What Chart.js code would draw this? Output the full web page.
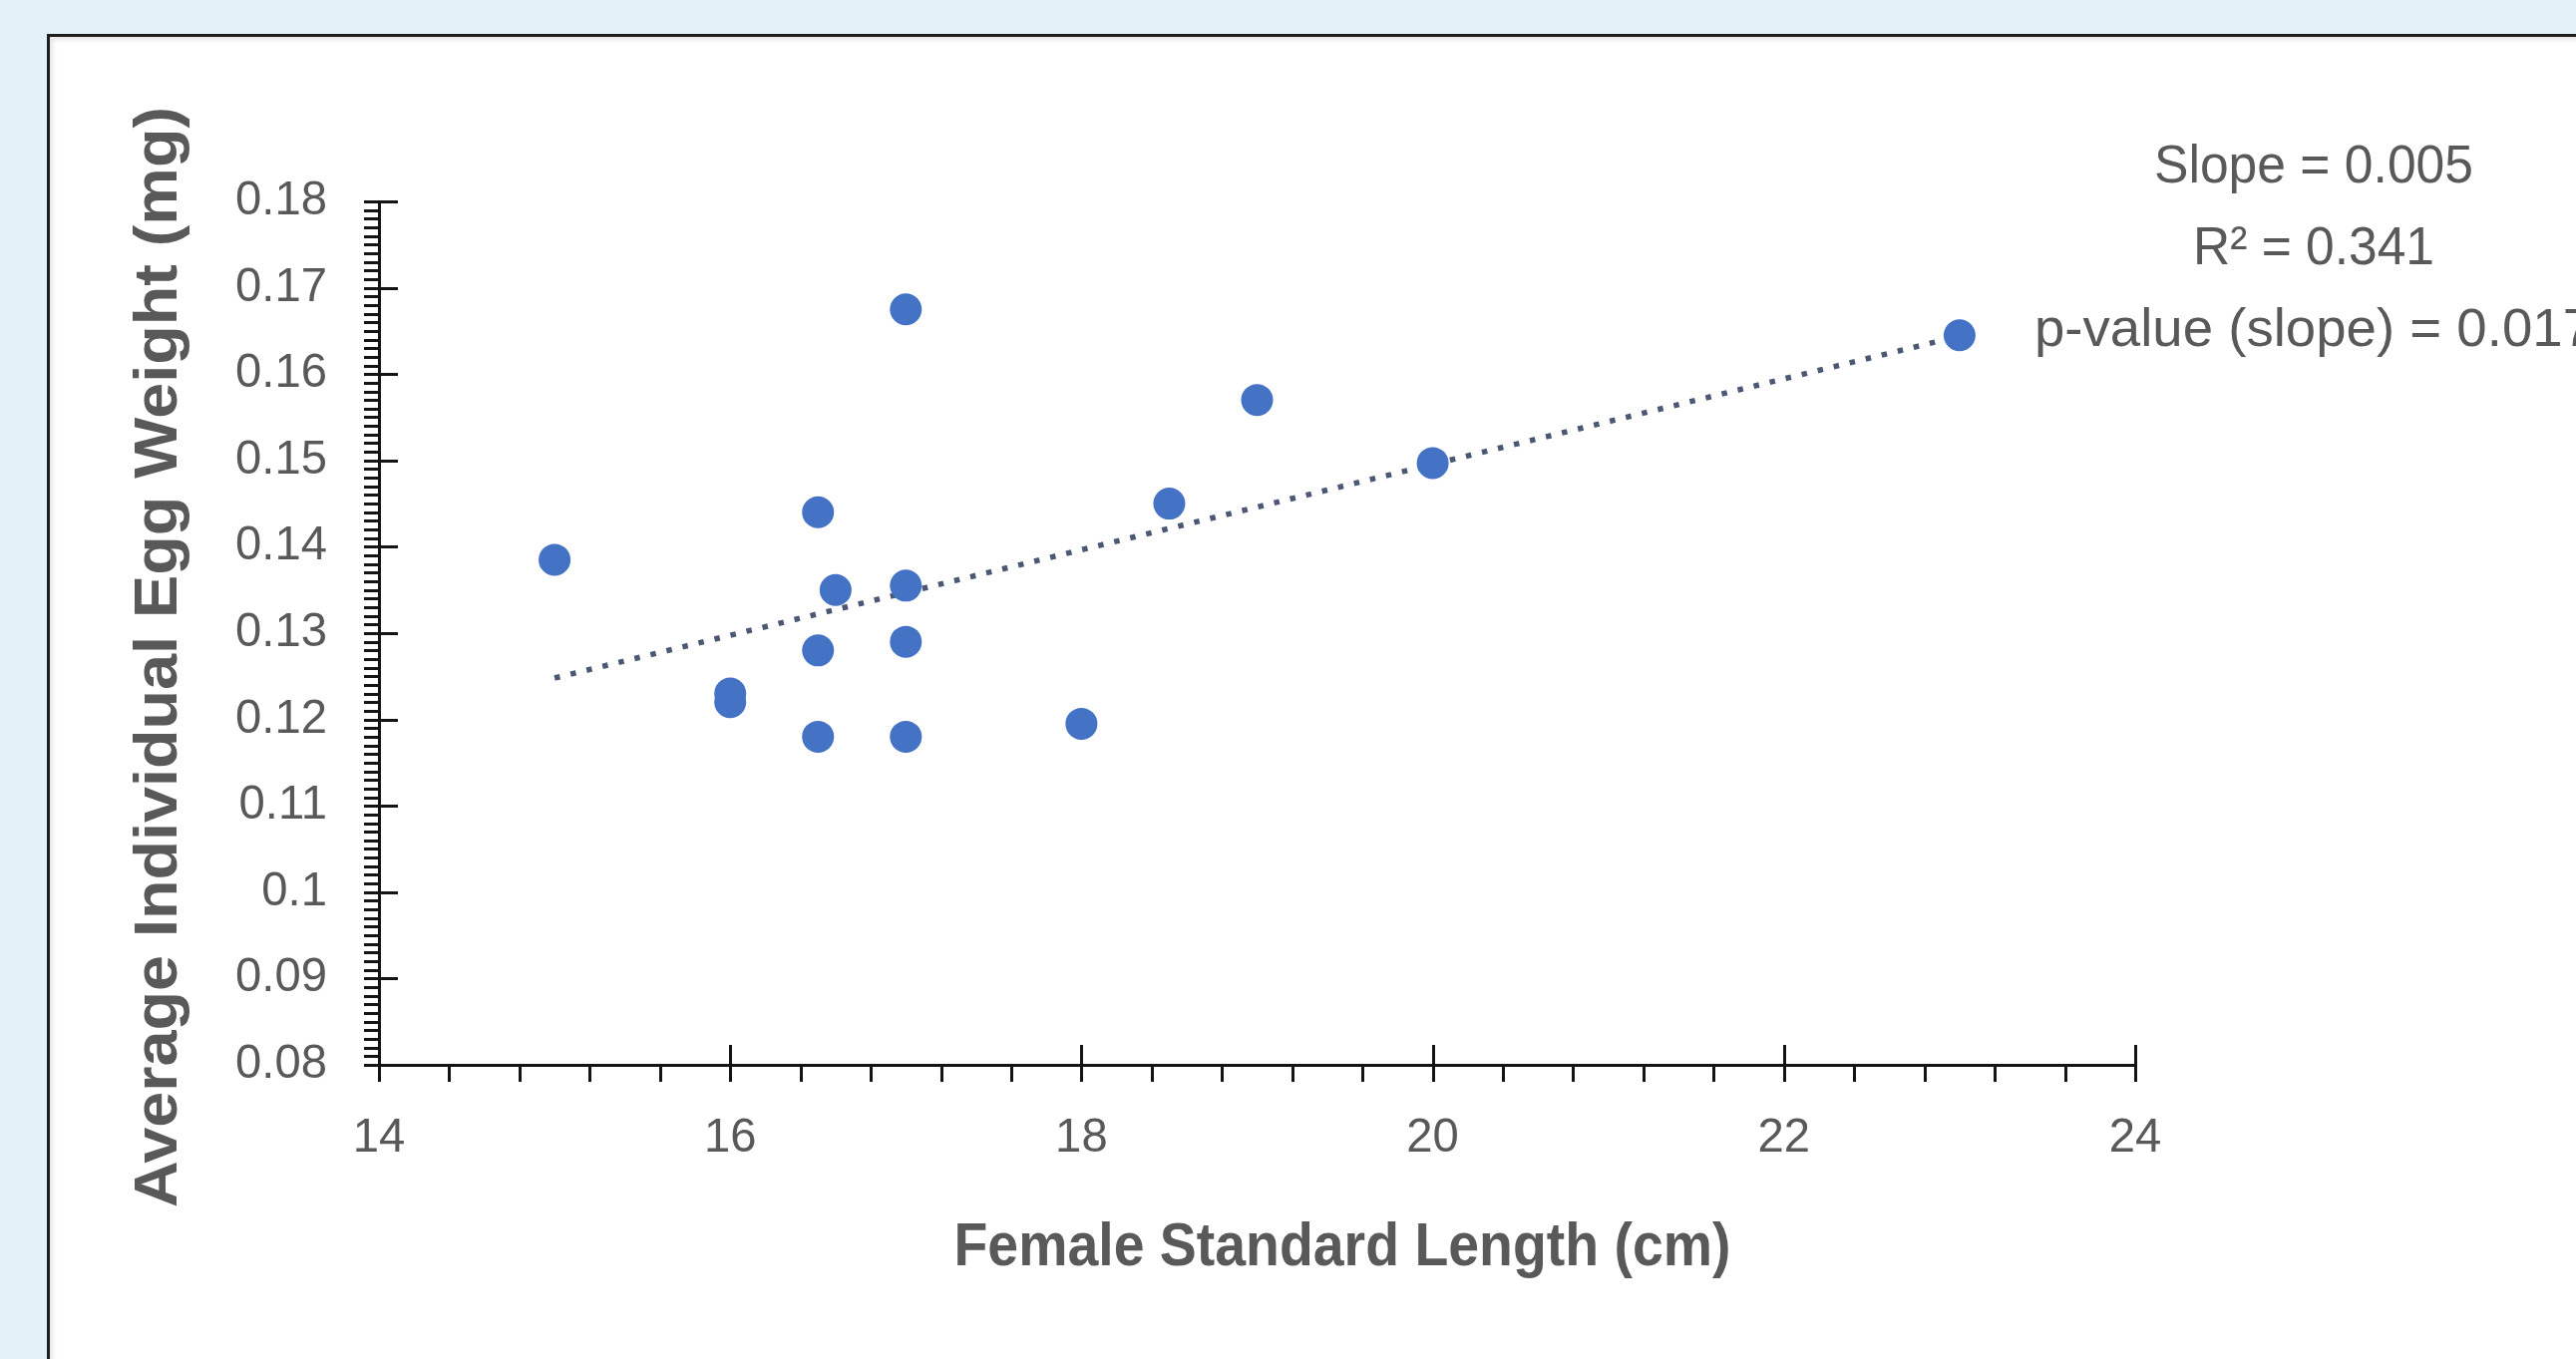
<!DOCTYPE html>
<html>
<head>
<meta charset="utf-8">
<title>Egg weight vs female length</title>
<script src="https://cdn.jsdelivr.net/npm/chart.js@4.4.1/dist/chart.umd.min.js"></script>
<style>
    html, body { margin: 0; padding: 0; background: #e3f1f9; overflow: hidden; }
    #panel {
        position: absolute; left: 47px; top: 34px; width: 2600px; height: 1400px;
        background: #fff; border: 3px solid #1e1e1e;
        box-shadow: inset 3px 3px 4px rgba(0, 0, 0, 0.10);
    }
    #wrap { position: absolute; left: 0; top: 0; width: 2583px; height: 1363px; }
</style>
</head>
<body>
<div id="panel"></div>
<div id="wrap"><canvas id="chart" width="2583" height="1363"></canvas></div>
<script>
// data
const lengthCm = [15, 16, 16, 16.5, 16.5, 16.5, 16.6, 17, 17, 17, 17, 18, 18.5, 19, 20, 23];
const eggWeightMg = [0.1385, 0.123, 0.122, 0.144, 0.128, 0.118, 0.135, 0.1675, 0.1355, 0.129, 0.118, 0.1195, 0.145, 0.157, 0.1497, 0.1645];
const trendX = [15, 23];
const trendY = [0.1248, 0.1644];
const xTicks = [14, 16, 18, 20, 22, 24];
const yTicks = [0.08, 0.09, 0.1, 0.11, 0.12, 0.13, 0.14, 0.15, 0.16, 0.17, 0.18];
const xMinorStep = 0.4;
const yMinorStep = 0.001;
const statLines = ['Slope = 0.005', 'R\u00b2 = 0.341', 'p-value (slope) = 0.017'];
const xTitle = 'Female Standard Length (cm)';
const yTitle = 'Average Individual Egg Weight (mg)';

const FAMILY = '"Liberation Sans Narrow", "Liberation Sans", Roboto, sans-serif';
const TEXT = '#595959';
const AXIS = '#141414';

// pick a font size so a string comes out at the width seen in the picture
const measureCtx = document.createElement('canvas').getContext('2d');
function fitSize(text, weight, width) {
    measureCtx.font = `${weight} 100px ${FAMILY}`;
    return 100 * width / measureCtx.measureText(text).width;
}
const tickSize = fitSize('0.18', 'normal', 92);

// the original font is narrow and tall: draw at a height, scale to the width
function drawSqueezed(ctx, text, font, width, cx, cy, angle) {
    ctx.save();
    ctx.translate(cx, cy);
    if (angle) ctx.rotate(angle);
    ctx.font = font;
    const w = ctx.measureText(text).width;
    ctx.scale(width / w, 1);
    ctx.fillText(text, 0, 0);
    ctx.restore();
}

const axisExtras = {
    id: 'axisExtras',
    afterDraw(chart) {
        const { ctx, chartArea: area, scales: { x, y } } = chart;
        ctx.save();
        ctx.strokeStyle = AXIS;
        ctx.lineWidth = 3;
        ctx.beginPath();
        // y ticks: minor ones outside, majors cross the axis
        for (let v = yTicks[0]; v <= yTicks[yTicks.length - 1] + 1e-9; v += yMinorStep) {
            const py = Math.round(y.getPixelForValue(v)) + 0.5;
            ctx.moveTo(area.left - 15, py);
            ctx.lineTo(area.left, py);
        }
        yTicks.forEach(v => {
            const py = Math.round(y.getPixelForValue(v)) + 0.5;
            ctx.moveTo(area.left - 15, py);
            ctx.lineTo(area.left + 19, py);
        });
        for (let v = xTicks[0]; v <= xTicks[xTicks.length - 1] + 1e-9; v += xMinorStep) {
            const px = Math.round(x.getPixelForValue(v)) + 0.5;
            ctx.moveTo(px, area.bottom);
            ctx.lineTo(px, area.bottom + 17);
        }
        xTicks.forEach(v => {
            const px = Math.round(x.getPixelForValue(v)) + 0.5;
            ctx.moveTo(px, area.bottom - 20);
            ctx.lineTo(px, area.bottom + 17);
        });
        ctx.stroke();

        ctx.fillStyle = TEXT;
        ctx.textAlign = 'center';
        ctx.textBaseline = 'middle';

        drawSqueezed(ctx, xTitle, `bold 62px ${FAMILY}`, 779, area.left + 966, area.bottom + 184);
        drawSqueezed(ctx, yTitle, `bold 62px ${FAMILY}`, 1104, 160, area.top + 457, -Math.PI / 2);
        statLines.forEach((line, i) => {
            const w = i === 0 ? 320 : (i === 1 ? 242 : 560);
            drawSqueezed(ctx, line, `54px ${FAMILY}`, w, area.right + 179, area.top - 34 + i * 82);
        });
        ctx.restore();
    }
};

new Chart(document.getElementById('chart'), {
    type: 'scatter',
    data: {
        datasets: [
            {
                label: 'Egg weight',
                data: lengthCm.map((v, i) => ({ x: v, y: eggWeightMg[i] })),
                backgroundColor: '#4472c4',
                borderWidth: 0,
                pointRadius: 16,
                pointHoverRadius: 16
            },
            {
                type: 'line',
                label: 'Trend',
                data: trendX.map((v, i) => ({ x: v, y: trendY[i] })),
                borderColor: '#4b5873',
                borderWidth: 5.5,
                borderDash: [5.5, 11],
                pointRadius: 0,
                fill: false
            }
        ]
    },
    options: {
        responsive: false,
        animation: false,
        layout: { padding: { left: 0, top: 202, right: 442, bottom: 0 } },
        plugins: { legend: { display: false }, tooltip: { enabled: false } },
        scales: {
            x: {
                type: 'linear',
                min: xTicks[0],
                max: xTicks[xTicks.length - 1],
                afterBuildTicks: s => { s.ticks = xTicks.map(v => ({ value: v })); },
                afterFit: s => { s.height = 1363 - 1068; },
                grid: { display: false, drawTicks: false },
                border: { display: true, color: AXIS, width: 3 },
                ticks: {
                    color: TEXT,
                    font: { family: FAMILY, size: tickSize },
                    padding: 74 - 0.6 * tickSize,
                    maxRotation: 0,
                    autoSkip: false
                }
            },
            y: {
                type: 'linear',
                min: yTicks[0],
                max: yTicks[yTicks.length - 1],
                afterBuildTicks: s => { s.ticks = yTicks.map(v => ({ value: v })); },
                afterFit: s => { s.width = 380; },
                grid: { display: false, drawTicks: false },
                border: { display: true, color: AXIS, width: 3 },
                ticks: {
                    color: TEXT,
                    font: { family: FAMILY, size: tickSize },
                    padding: 52,
                    autoSkip: false,
                    callback: v => String(Number(v.toFixed(2)))
                }
            }
        }
    },
    plugins: [axisExtras]
});
</script>
</body>
</html>
